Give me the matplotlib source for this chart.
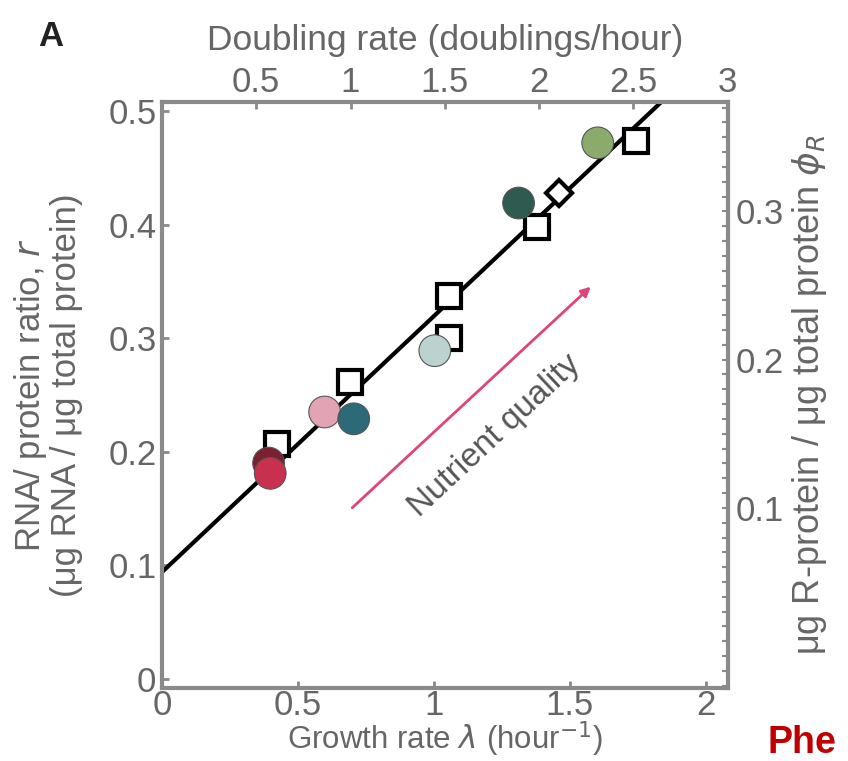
import numpy as np
import matplotlib
matplotlib.use("Agg")
import matplotlib.pyplot as plt
from matplotlib.ticker import MultipleLocator

plt.rcParams["font.family"] = ["Liberation Sans", "DejaVu Sans"]

# ── data ───────────────────────────────────────────────────────────────────
# open squares (reference strains)
sq_lam = [0.424, 0.692, 1.057, 1.055, 1.378, 1.742]
sq_r   = [0.207, 0.261, 0.337, 0.300, 0.398, 0.474]

# small open diamond
dia_lam = [1.460]
dia_r   = [0.428]

# coloured circles (nutrient conditions)
circ_lam    = [0.392, 0.398, 0.598, 0.705, 1.003, 1.311, 1.602]
circ_r      = [0.190, 0.181, 0.235, 0.229, 0.289, 0.419, 0.472]
circ_colors = ["#7a2030", "#c8304e", "#e2a3b4", "#2c6a78", "#bcd2cf", "#2f5a4f", "#8bab6c"]

# linear fit  r = r0 + lambda * slope
r0, slope = 0.094, 0.2255
lam_fit = [0.0, 1.83]

# right axis: phi_R = rho * (r - r_off)
rho, r_off = 0.766, 0.02

grey = "#666666"
spine_grey = "#8a8a8a"

fig = plt.figure(figsize=(8.48, 7.61), dpi=100, facecolor="white")
ax = fig.add_axes([0.191, 0.096, 0.667, 0.770])

ax.plot(lam_fit, [r0 + slope * l for l in lam_fit], color="black", lw=3, zorder=2)
ax.plot(sq_lam, sq_r, "s", ms=17, mfc="white", mec="black", mew=3, zorder=3)
ax.plot(dia_lam, dia_r, "D", ms=13, mfc="white", mec="black", mew=3, zorder=3)
ax.scatter(circ_lam, circ_r, s=520, c=circ_colors, edgecolors="#555555",
           linewidths=0.8, zorder=4)

# nutrient quality arrow + label
ax.annotate("", xy=(1.584, 0.347), xytext=(0.692, 0.149),
            arrowprops=dict(arrowstyle="-|>", color="#e0457a", lw=2,
                            mutation_scale=14), zorder=1)
ax.text(1.225, 0.214, "Nutrient quality", rotation=43, color="#555555",
        fontsize=24, ha="center", va="center", rotation_mode="anchor")

ax.set_xlim(0, 3 * np.log(2))
ax.set_ylim(-0.008, 0.508)
ax.set_xticks([0, 0.5, 1, 1.5, 2])
ax.set_xticklabels(["0", "0.5", "1", "1.5", "2"])
ax.set_yticks([0, 0.1, 0.2, 0.3, 0.4, 0.5])
ax.set_yticklabels(["0", "0.1", "0.2", "0.3", "0.4", "0.5"])

for sp in ax.spines.values():
    sp.set_color(spine_grey)
    sp.set_linewidth(3)
ax.tick_params(direction="in", length=5, width=2, color=spine_grey,
               labelcolor=grey, labelsize=25)
ax.tick_params(axis="x", pad=1)
ax.tick_params(axis="y", pad=4)

ax.set_xlabel("Growth rate $\\lambda$ (hour$^{-1}$)", fontsize=22.5, color=grey, labelpad=-2)
ax.set_ylabel("RNA/ protein ratio, $r$\n(μg RNA / μg total protein)", fontsize=25,
              color=grey, labelpad=18, linespacing=1.05)

# top axis: doublings per hour
top = ax.secondary_xaxis("top", functions=(lambda x: x / np.log(2), lambda d: d * np.log(2)))
top.set_xticks([0.5, 1, 1.5, 2, 2.5, 3])
top.set_xticklabels(["0.5", "1", "1.5", "2", "2.5", "3"])
top.tick_params(direction="in", length=5, width=2, color=spine_grey,
                labelcolor=grey, labelsize=25, pad=2)
top.spines["top"].set_visible(False)
top.set_xlabel("Doubling rate (doublings/hour)", fontsize=25.5, color=grey, labelpad=12)

# right axis: R-protein fraction
right = ax.secondary_yaxis("right", functions=(lambda r: rho * (r - r_off),
                                               lambda p: p / rho + r_off))
right.set_yticks([0.1, 0.2, 0.3])
right.set_yticklabels(["0.1", "0.2", "0.3"])
right.yaxis.set_minor_locator(MultipleLocator(0.01))
right.tick_params(which="both", direction="in", length=4, width=1.5, color=spine_grey,
                  labelcolor=grey, labelsize=25, pad=6)
right.spines["right"].set_visible(False)
right.set_ylabel("μg R-protein / μg total protein $\\phi_R$", fontsize=26,
                 color=grey, labelpad=4)

fig.text(0.045, 0.952, "A", fontsize=25, fontweight="bold", color="#222222",
         ha="left", va="center")
fig.text(0.905, 0.0, "Phe", fontsize=27, fontweight="bold", color="#c00000",
         ha="left", va="bottom")

plt.savefig("out.png", dpi=100, facecolor="white")
plt.close()
print("Saved: out.png")
